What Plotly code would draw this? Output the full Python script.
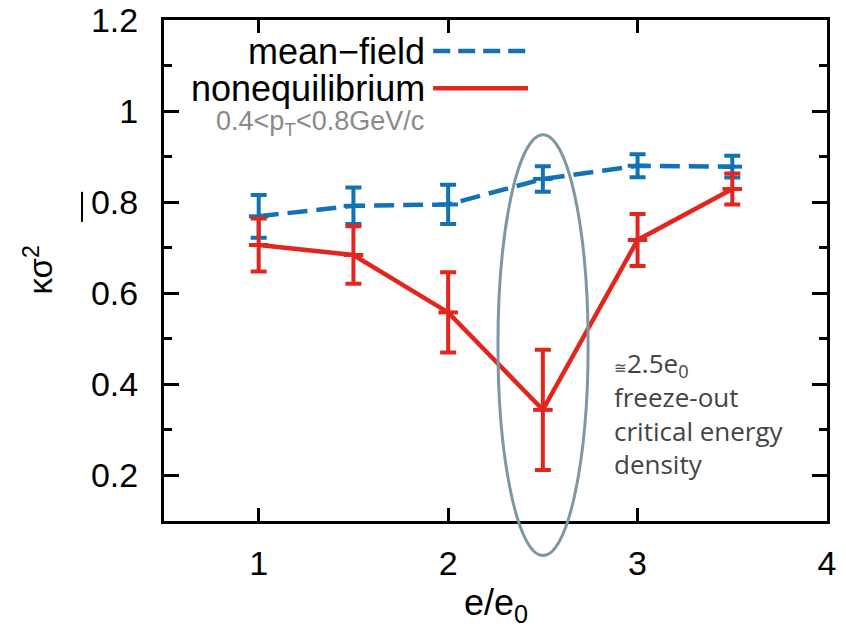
import plotly.graph_objects as go

# ---- data ----
e_ratio = [1.0, 1.5, 2.0, 2.5, 3.0, 3.5]
mean_field = [0.769, 0.792, 0.795, 0.851, 0.880, 0.878]
mean_field_err = [0.047, 0.040, 0.043, 0.028, 0.025, 0.024]
noneq = [0.706, 0.684, 0.558, 0.344, 0.717, 0.829]
noneq_err = [0.058, 0.063, 0.088, 0.132, 0.057, 0.034]
x_ticks = [1, 2, 3, 4]
y_ticks = [0.2, 0.4, 0.6, 0.8, 1.0, 1.2]
y_tick_text = ["0.2", "0.4", "0.6", "0.8", "1", "1.2"]

X_RANGE = [0.5, 4.0]
Y_RANGE = [0.1, 1.2]

BLUE = "#1272b6"
RED = "#e2261d"
GRAY = "#7f96a3"

fig = go.Figure()
fig.add_trace(go.Scatter(
    x=e_ratio, y=mean_field, mode="lines+markers", name="mean\u2212field",
    line=dict(color=BLUE, width=4.5, dash="20px,9px"),
    marker=dict(symbol="line-ew", size=14, line=dict(color=BLUE, width=4), color=BLUE),
    error_y=dict(type="data", array=mean_field_err, color=BLUE, thickness=4, width=8),
    showlegend=False, cliponaxis=False,
))
fig.add_trace(go.Scatter(
    x=e_ratio, y=noneq, mode="lines+markers", name="nonequilibrium",
    line=dict(color=RED, width=4.5),
    marker=dict(symbol="line-ew", size=14, line=dict(color=RED, width=4), color=RED),
    error_y=dict(type="data", array=noneq_err, color=RED, thickness=4, width=8),
    showlegend=False, cliponaxis=False,
))

# ellipse around the e/e0 = 2.5 point (data units), converted to domain fractions
ell_x0, ell_x1 = 2.263, 2.739
ell_y0, ell_y1 = 0.024, 0.948
def xd(v):
    return (v - X_RANGE[0]) / (X_RANGE[1] - X_RANGE[0])
def yd(v):
    return (v - Y_RANGE[0]) / (Y_RANGE[1] - Y_RANGE[0])

shapes = [
    dict(type="circle", xref="x domain", yref="y domain",
         x0=xd(ell_x0), x1=xd(ell_x1), y0=yd(ell_y0), y1=yd(ell_y1),
         line=dict(color=GRAY, width=3)),
    # legend line samples
    dict(type="line", xref="paper", yref="paper", x0=0.406, x1=0.549, y0=0.938, y1=0.938,
         line=dict(color=BLUE, width=4.5, dash="17px,8px")),
    dict(type="line", xref="paper", yref="paper", x0=0.406, x1=0.549, y0=0.864, y1=0.864,
         line=dict(color=RED, width=4.5)),
    # small stray bar left of the 0.8 label
    dict(type="line", xref="paper", yref="paper", x0=-0.1237, x1=-0.1237, y0=0.597, y1=0.657,
         line=dict(color="black", width=2)),
]

annotations = [
    dict(text="mean\u2212field", xref="paper", yref="paper", x=0.396, y=0.938,
         xanchor="right", yanchor="middle", showarrow=False,
         font=dict(family="Liberation Sans", size=36, color="black")),
    dict(text="nonequilibrium", xref="paper", yref="paper", x=0.396, y=0.864,
         xanchor="right", yanchor="middle", showarrow=False,
         font=dict(family="Liberation Sans", size=36, color="black")),
    dict(text="0.4<p<sub>T</sub><0.8GeV/c", xref="paper", yref="paper", x=0.076, y=0.795,
         xanchor="left", yanchor="middle", showarrow=False,
         font=dict(family="Liberation Sans", size=27, color="#8a8a8a")),
    dict(text="<span style='font-size:15px'>\u2245</span>2.5e<sub>0</sub><br>freeze-out<br>critical energy<br>density",
         xref="x", yref="y", x=2.865, y=0.337, xanchor="left", yanchor="middle",
         align="left", showarrow=False,
         font=dict(family="Open Sans", size=26, color="#444444")),
    dict(text="\u03ba\u03c3<sup>2</sup>", xref="paper", yref="paper", x=-0.19, y=0.50,
         textangle=-90, xanchor="center", yanchor="middle", showarrow=False,
         font=dict(family="Liberation Sans", size=33, color="black")),
    dict(text="e/e<sub>0</sub>", xref="paper", yref="paper", x=0.5, y=-0.168,
         xanchor="center", yanchor="middle", showarrow=False,
         font=dict(family="Liberation Sans", size=36, color="black")),
]

fig.update_layout(
    width=846, height=634,
    margin=dict(l=164, r=19, t=20, b=113, autoexpand=False),
    paper_bgcolor="white", plot_bgcolor="white",
    shapes=shapes, annotations=annotations,
    xaxis=dict(range=X_RANGE, tickvals=x_ticks, ticks="inside", ticklen=13, tickwidth=3,
               tickcolor="black", showline=True, linewidth=3, linecolor="black",
               mirror="ticks", showgrid=False, zeroline=False, automargin=False,
               tickfont=dict(family="Liberation Sans", size=34, color="black"),
               ticklabelstandoff=10),
    yaxis=dict(range=Y_RANGE, tickvals=y_ticks, ticktext=y_tick_text, ticks="inside",
               ticklen=15, tickwidth=3, tickcolor="black", showline=True, linewidth=3,
               linecolor="black", mirror="ticks", showgrid=False, zeroline=False,
               automargin=False,
               tickfont=dict(family="Liberation Sans", size=34, color="black"),
               ticklabelstandoff=16,
               minor=dict(dtick=0.1, tick0=0.1, ticks="inside", ticklen=8, tickwidth=3,
                          tickcolor="black", showgrid=False)),
)

fig.write_html("out.html", post_script="document.body.style.margin='0';",
               config={"displayModeBar": False})
